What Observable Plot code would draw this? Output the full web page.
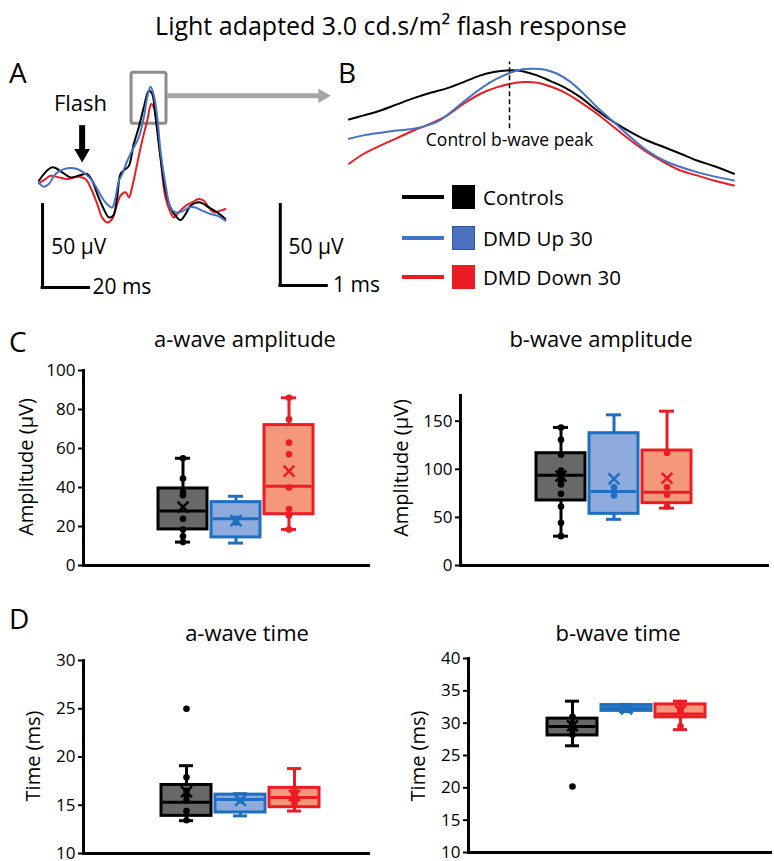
<!DOCTYPE html>
<html><head><meta charset="utf-8">
<script src="https://cdn.jsdelivr.net/npm/d3@7"></script>
<script src="https://cdn.jsdelivr.net/npm/@observablehq/plot@0.6"></script>
<style>
body{margin:0;background:#fff;}
#fig{position:relative;width:774px;height:861px;overflow:hidden;font-family:"Open Sans",sans-serif;color:#000;background:#fff;}
.t{position:absolute;white-space:nowrap;line-height:1;}
.p{position:absolute;overflow:visible;}
</style></head><body><div id="fig"></div>
<script>
// ---------- DATA ----------
const groups = ["Controls", "DMD Up 30", "DMD Down 30"];
const lineColors = ["#000000", "#4472c4", "#ec1c24"];
const boxStroke = ["#000000", "#1f6fc0", "#ec1c24"];
const boxFill = ["#686868", "#8faadc", "#f4977a"];

// Panel A: averaged ERG traces (time ms, voltage µV)
const ctrlATime = [0.56,6.1,10.3,13.75,17.9,20.7,22.8,24.9,27.6,29.7,31.5,33.2,34.6,36.7,38.1,40.1,42.2,44.3,46.4,47.8,49.2,51.25,53.3,55.4,57.5,59.6,61.7,63.75,66.5,68.6,71.4,74.9,78.3];
const ctrlAVolt = [-2.0,6.0,3.0,0,1.4,2.0,-2.0,-9.9,-18.8,-23.8,-22.8,-11.9,2.0,5.0,6.9,19.8,29.8,41.7,51.6,49.6,35.7,11.9,-7.9,-17.9,-22.8,-25.4,-21.8,-16.9,-14.9,-15.3,-17.9,-20.8,-24.8];
const upATime = [0.56,2.6,4.7,7.5,12.4,16.5,20.0,22.8,25.6,28.3,31.1,32.5,33.9,35.3,37.4,39.4,42.2,44.3,45.7,47.1,48.5,49.9,51.25,53.3,55.4,57.5,60.3,63.1,65.8,68.6,72.1,74.9,78.3];
const upAVolt = [-3.0,-5.6,-4.0,2.0,5.4,5.0,2.0,-2.0,-8.9,-14.9,-17.9,-11.9,-2.0,2.0,9.9,15.9,23.8,35.7,47.6,54.0,48.6,35.7,15.9,-4.0,-17.9,-20.8,-20.2,-17.9,-17.9,-19.8,-21.8,-22.8,-25.8];
const downATime = [0.56,3.3,5.4,8.9,12.4,17.2,20.0,22.1,24.9,26.9,29.0,31.1,33.2,34.6,36.7,38.1,39.4,41.5,43.6,45.7,47.4,48.5,49.9,51.25,53.3,55.4,56.8,58.9,61.7,64.4,67.2,69.3,71.4,73.5,76.25,78.3];
const downAVolt = [-3.6,-1.0,1.0,0,-1.0,0.4,-1.0,-6.0,-15.9,-23.8,-26.8,-24.8,-15.9,-10.9,-8.9,-11.9,-6.0,7.9,21.8,33.7,43.7,41.7,29.8,11.9,-11.9,-20.8,-23.8,-20.8,-16.9,-14.9,-12.9,-13.9,-17.9,-20.8,-19.8,-18.8];
const flashTime = 18.6;               // ms, flash onset arrow
const zoomWindowA = {t0: 39.2, t1: 53.75, v0: 32, v1: 62.3};
const scaleBarA = {t: 2.1, v: -65.6, dt: 20, dv: 50};

// Panel B: zoomed b-wave peak
const ctrlBTime = [0.03,0.34,0.69,1.03,1.38,1.73,2.08,2.42,2.77,3.05,3.33,3.53,3.67,3.95,4.23,4.51,4.85,5.20,5.55,5.90,6.24,6.59,6.94,7.28,7.63,8.05];
const ctrlBVolt = [70.1,72.6,75.6,79.3,83.1,86.4,89.2,92.9,97.0,99.0,100.0,100.0,99.4,97.0,93.5,89.8,83.7,75.6,68.5,62.4,57.3,53.3,49.2,45.1,41.7,37.0];
const upBTime = [0.03,0.34,0.69,1.03,1.38,1.73,1.94,2.28,2.63,2.98,3.26,3.53,3.81,4.09,4.37,4.65,4.92,5.20,5.55,5.90,6.24,6.59,6.94,7.28,7.63,8.05];
const upBVolt = [58.3,60.4,62.0,63.4,64.4,67.1,69.9,77.6,85.8,92.9,97.0,100.0,101.0,100.6,98.0,92.9,85.8,77.6,68.5,59.3,51.2,45.1,41.1,38.0,35.4,32.9];
const downBTime = [0.03,0.34,0.69,1.03,1.38,1.73,2.08,2.42,2.77,3.12,3.40,3.67,3.95,4.23,4.51,4.85,5.20,5.55,5.90,6.24,6.59,6.94,7.28,7.63,8.05];
const downBVolt = [43.1,49.2,54.3,58.7,63.4,67.5,72.6,79.7,85.8,89.8,91.9,92.9,92.5,90.2,86.8,80.7,73.6,65.4,57.3,50.2,44.1,39.0,36.0,32.9,29.9];
const controlPeakTime = 3.375;
const scaleBarB = {t: -1.4, v: -31.1, dt: 1, dv: 50};

// Panels C/D: box stats per group [min, q1, median, q3, max, mean]
const aAmpStats = [[12, 18.5, 28, 39.5, 55, 30], [11.5, 14.4, 24, 32.5, 35.5, 23], [18.5, 26.3, 40.7, 72, 86, 48.4]];
const aAmpPoints = [[55, 44.6, 37.6, 36, 24, 18.5, 15, 12], [24, 22], [86, 75, 63, 57, 40, 29, 25.6, 18.5]];
const bAmpStats = [[30.5, 67.6, 93.9, 116.7, 143.5, 93], [48, 53.7, 77, 137.5, 156.6, 90], [59.6, 64.8, 76.2, 119.5, 160.4, 90.7]];
const bAmpPoints = [[143.5, 130.6, 115, 98.8, 94.6, 90.8, 87.3, 84.2, 74.5, 61.3, 44.4, 30.5], [81.4, 72.8], [117, 81.4, 73.5, 61.3]];
const aTimeStats = [[13.4, 13.9, 15.3, 17.1, 19.1, 16.4], [13.9, 14.25, 15.6, 16.1, 16.2, 15.5], [14.4, 14.8, 15.8, 16.8, 18.8, 16.0]];
const aTimePoints = [[25, 17.9, 16.5, 16, 15.5, 14.4, 13.45], [15.5], [16.5, 16, 15.5, 15.2]];
const bTimeStats = [[26.5, 28.1, 29.5, 30.7, 33.4, 29.6], [31.8, 31.9, 32.4, 32.8, 32.9, 32.2], [29, 30.9, 31.4, 32.9, 33.4, 31.9]];
const bTimePoints = [[20.2, 31, 30, 29, 28.2], [32.1], [33.1, 32.2, 31.8, 29.5]];
const ampTicksA = [0, 20, 40, 60, 80, 100];
const ampTicksB = [0, 50, 100, 150];
const timeTicksA = [10, 15, 20, 25, 30];
const timeTicksB = [10, 15, 20, 25, 30, 35, 40];

// ---------- LAYOUT HELPERS ----------
const fig = document.getElementById("fig");
const FONT = "Open Sans";
function addText(str, x, y, size, anchor = "start", rotate = 0) {
  const d = document.createElement("div");
  d.className = "t";
  d.textContent = str;
  d.style.left = x + "px";
  d.style.top = y + "px";
  d.style.fontSize = size + "px";
  const tx = anchor === "middle" ? "-50%" : anchor === "end" ? "-100%" : "0";
  d.style.transform = `translate(${tx},-50%)` + (rotate ? ` rotate(${rotate}deg)` : "");
  d.style.transformOrigin = "50% 50%";
  fig.appendChild(d);
  return d;
}
function addPlot(svg, left, top) {
  svg.classList.add("p");
  svg.style.left = left + "px";
  svg.style.top = top + "px";
  fig.appendChild(svg);
}
const traces = (times, volts, k) => times.map((t, i) => ({t, v: volts[i], k}));

// ---------- TITLE & LETTERS ----------
addText("Light adapted 3.0 cd.s/m² flash response", 391, 25, 25, "middle");
addText("A", 9, 72, 28);
addText("B", 338, 72, 28);
addText("C", 9, 341, 28);
addText("D", 9, 618, 28);

// ---------- PANEL A ----------
const dataA = [
  ...traces(downATime, downAVolt, 2),
  ...traces(ctrlATime, ctrlAVolt, 0),
  ...traces(upATime, upAVolt, 1)
];
addPlot(Plot.plot({
  width: 300, height: 228, margin: 0,
  style: {overflow: "visible", background: "transparent"},
  x: {domain: [0, 125], axis: null},
  y: {domain: [-69.7, 66], axis: null},
  color: {type: "identity"},
  marks: [
    Plot.rect([zoomWindowA], {x1: "t0", x2: "t1", y1: "v0", y2: "v1", fill: "none", stroke: "#8c8c8c", strokeWidth: 3, rx: 2}),
    Plot.line(dataA, {x: "t", y: "v", z: "k", stroke: d => lineColors[d.k], strokeWidth: 2, curve: "catmull-rom"}),
    Plot.ruleY([zoomWindowA], {y: d => (d.v0 + d.v1) / 2 + 1.5, x1: d => d.t1 + 0.4, x2: 118, stroke: "#a6a6a6", strokeWidth: 5}),
    Plot.dot([zoomWindowA], {y: d => (d.v0 + d.v1) / 2 + 1.5, x: 118.75, symbol: "triangle", rotate: 90, r: 5.4, fill: "#a6a6a6", stroke: "none"}),
    Plot.ruleX([flashTime], {x: d => d, y1: 30.8, y2: 15, stroke: "#000", strokeWidth: 6}),
    Plot.dot([flashTime], {x: d => d, y: 14.2, symbol: "triangle", rotate: 180, r: 5.8, fill: "#000", stroke: "none"}),
    Plot.text(["Flash"], {x: flashTime - 0.7, y: 43.9, text: d => d, fontSize: 22, fontFamily: FONT, textAnchor: "middle", fill: "#000"}),
    Plot.ruleX([scaleBarA], {x: "t", y1: "v", y2: d => d.v + d.dv, stroke: "#000", strokeWidth: 3}),
    Plot.ruleY([scaleBarA], {y: "v", x1: d => d.t - 0.6, x2: d => d.t + d.dt, stroke: "#000", strokeWidth: 3}),
    Plot.text([scaleBarA], {x: d => d.t + 3.6, y: d => d.v + 24, text: d => `${d.dv} µV`, fontSize: 21, fontFamily: FONT, textAnchor: "start", fill: "#000"}),
    Plot.text([scaleBarA], {x: d => d.t + d.dt + 0.8, y: "v", text: d => `${d.dt} ms`, fontSize: 21, fontFamily: FONT, textAnchor: "start", fill: "#000"})
  ]
}), 37, 66);

// ---------- PANEL B ----------
const dataB = [
  ...traces(ctrlBTime, ctrlBVolt, 0),
  ...traces(downBTime, downBVolt, 2),
  ...traces(upBTime, upBVolt, 1)
];
addPlot(Plot.plot({
  width: 462, height: 232, margin: 0,
  style: {overflow: "visible", background: "transparent"},
  x: {domain: [-1.5, 8.125], axis: null},
  y: {domain: [-35.4, 106.06], axis: null},
  color: {type: "identity"},
  marks: [
    Plot.line(dataB, {x: "t", y: "v", z: "k", stroke: d => lineColors[d.k], strokeWidth: 2, curve: "catmull-rom"}),
    Plot.ruleX([controlPeakTime], {x: d => d, y1: 64.4, y2: 105.1, stroke: "#000", strokeWidth: 1.5, strokeDasharray: "5,3"}),
    Plot.text(["Control b-wave peak"], {x: controlPeakTime, y: 57.3, text: d => d, fontSize: 17.5, fontFamily: FONT, textAnchor: "middle", fill: "#000"}),
    Plot.ruleX([scaleBarB], {x: "t", y1: "v", y2: d => d.v + d.dv, stroke: "#000", strokeWidth: 3}),
    Plot.ruleY([scaleBarB], {y: "v", x1: d => d.t - 0.03, x2: d => d.t + d.dt, stroke: "#000", strokeWidth: 3}),
    Plot.text([scaleBarB], {x: d => d.t + 0.17, y: d => d.v + 23.4, text: d => `${d.dv} µV`, fontSize: 21, fontFamily: FONT, textAnchor: "start", fill: "#000"}),
    Plot.text([scaleBarB], {x: d => d.t + d.dt + 0.1, y: "v", text: d => `${d.dt} ms`, fontSize: 21, fontFamily: FONT, textAnchor: "start", fill: "#000"})
  ]
}), 275, 60);

// ---------- LEGEND ----------
groups.forEach((g, i) => {
  const cy = [197, 238, 277][i];
  const ln = document.createElement("div");
  Object.assign(ln.style, {position: "absolute", left: "402px", top: (cy - 2) + "px", width: "42px", height: "4px", background: lineColors[i]});
  fig.appendChild(ln);
  const sq = document.createElement("div");
  Object.assign(sq.style, {position: "absolute", left: "452px", top: (cy - 12) + "px", width: "23px", height: "24px", boxSizing: "border-box",
    background: ["#000", "#4a72c0", "#ec1c24"][i], border: "1px solid " + ["#000", "#2f5597", "#ec1c24"][i]});
  fig.appendChild(sq);
  addText(g, 483, cy, 20.5);
});

// ---------- BOX PANELS ----------
function boxPanel(stats, points, o) {
  const rows = stats.map((s, i) => ({g: groups[i], i, min: s[0], q1: s[1], med: s[2], q3: s[3], max: s[4], mean: s[5]}));
  const pts = points.flatMap((arr, i) => arr.map(v => ({g: groups[i], i, v})));
  const cap = o.cap;
  return Plot.plot({
    width: o.width, height: o.height,
    marginLeft: o.ml, marginRight: o.mr, marginTop: o.mt, marginBottom: o.mb,
    style: {overflow: "visible", background: "transparent", fontFamily: FONT, fontSize: "17px", color: "#000"},
    x: {type: "band", domain: groups, range: o.xRange, paddingInner: 0.08, paddingOuter: 0, axis: null},
    y: {domain: o.domain, axis: null},
    color: {type: "identity"},
    marks: [
      Plot.ruleX(rows, {x: "g", y1: "min", y2: "max", stroke: d => boxStroke[d.i], strokeWidth: 3}),
      Plot.tickY(rows, {x: "g", y: "min", stroke: d => boxStroke[d.i], strokeWidth: 3, insetLeft: cap, insetRight: cap}),
      Plot.tickY(rows, {x: "g", y: "max", stroke: d => boxStroke[d.i], strokeWidth: 3, insetLeft: cap, insetRight: cap}),
      Plot.barY(rows, {x: "g", y1: "q1", y2: "q3", fill: d => boxFill[d.i], stroke: d => boxStroke[d.i], strokeWidth: 3}),
      Plot.tickY(rows, {x: "g", y: "med", stroke: d => boxStroke[d.i], strokeWidth: 3, insetLeft: 1.5, insetRight: 1.5}),
      Plot.dot(pts, {x: "g", y: "v", r: 3.3, fill: d => boxStroke[d.i], stroke: "none"}),
      Plot.dot(rows, {x: "g", y: "mean", symbol: "times", r: 5, stroke: d => boxStroke[d.i], strokeWidth: 2.5}),
      Plot.axisY({ticks: o.ticks, tickSize: 5, tickPadding: 3, strokeWidth: 2, fontSize: 17, label: null, fill: "#000"}),
      Plot.frame({anchor: "left", strokeWidth: 3, stroke: "#000"}),
      Plot.frame({anchor: "bottom", strokeWidth: 3, stroke: "#000"})
    ]
  });
}

addText("a-wave amplitude", 245, 338, 22, "middle");
addText("b-wave amplitude", 601, 338, 22, "middle");
addText("a-wave time", 247, 632, 22, "middle");
addText("b-wave time", 618, 632, 22, "middle");
addText("Amplitude (µV)", 26, 467, 20, "middle", -90);
addText("Amplitude (µV)", 401, 468, 20, "middle", -90);
addText("Time (ms)", 33, 756, 20, "middle", -90);
addText("Time (ms)", 418, 756, 20, "middle", -90);

addPlot(boxPanel(aAmpStats, aAmpPoints, {width: 380, height: 215, ml: 83, mr: 12, mt: 10, mb: 10, xRange: [157, 313], domain: [0, 100], ticks: ampTicksA, cap: 17}), 0, 360);
addPlot(boxPanel(bAmpStats, bAmpPoints, {width: 394, height: 190, ml: 80, mr: 7, mt: 10, mb: 10, xRange: [155, 311], domain: [0, 176.7], ticks: ampTicksB, cap: 17}), 380, 385);
addPlot(boxPanel(aTimeStats, aTimePoints, {width: 380, height: 211, ml: 83, mr: 12, mt: 10, mb: 8, xRange: [160, 319], domain: [10, 30], ticks: timeTicksA, cap: 18}), 0, 650);
addPlot(boxPanel(bTimeStats, bTimePoints, {width: 394, height: 212, ml: 88, mr: 4, mt: 10, mb: 8, xRange: [166, 325], domain: [10, 40], ticks: timeTicksB, cap: 18}), 380, 648);
</script></body></html>
